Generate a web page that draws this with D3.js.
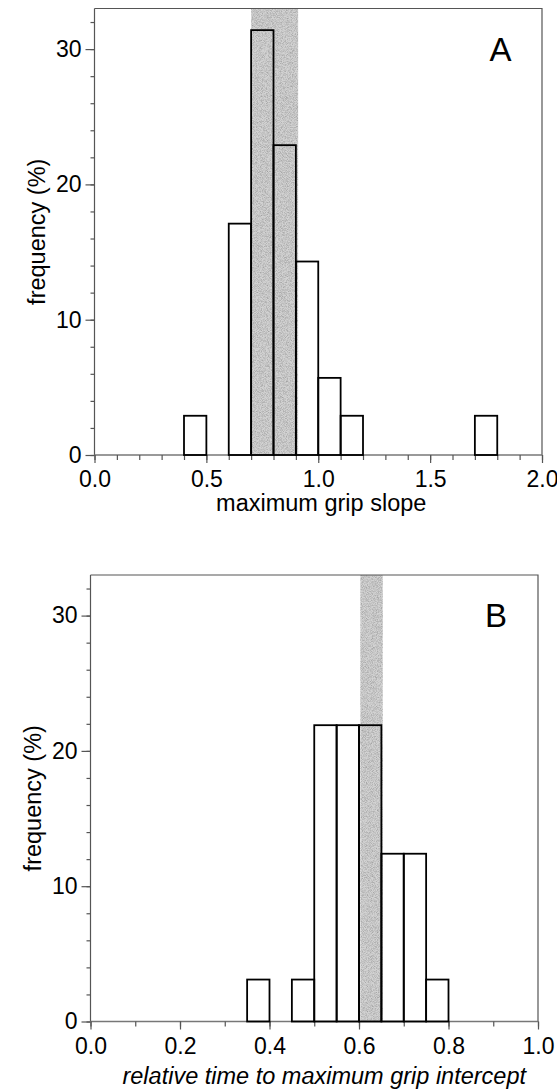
<!DOCTYPE html>
<html>
<head>
<meta charset="utf-8">
<script src="https://cdn.jsdelivr.net/npm/d3@7"></script>
<style>
  html, body { margin: 0; padding: 0; background: #fff; }
  svg { display: block; }
  text { font-family: "Liberation Sans", Arial, sans-serif; fill: #000; }
</style>
</head>
<body>
<svg id="chart" width="557" height="1091"></svg>
<script>
// Panel A: maximum grip slope, bins of 0.1
const slopeBinStart = [0.4, 0.6, 0.7, 0.8, 0.9, 1.0, 1.1, 1.7];
const slopeBinWidth = 0.1;
const slopeFreq     = [2.9, 17.1, 31.4, 22.9, 14.3, 5.7, 2.9, 2.9];
const slopeBand     = [0.70, 0.91];
const slopeTicks    = [0.0, 0.5, 1.0, 1.5, 2.0];

// Panel B: relative time to maximum grip intercept, bins of 0.05
const interceptBinStart = [0.35, 0.45, 0.50, 0.55, 0.60, 0.65, 0.70, 0.75];
const interceptBinWidth = 0.05;
const interceptFreq     = [3.1, 3.1, 21.9, 21.9, 21.9, 12.4, 12.4, 3.1];
const interceptBand     = [0.603, 0.653];
const interceptTicks    = [0.0, 0.2, 0.4, 0.6, 0.8, 1.0];

const freqTicks = [0, 10, 20, 30];
const freqMax = 33;

const svg = d3.select("#chart");

// grainy grey texture for the shaded reference band
const defs = svg.append("defs");
const grain = defs.append("filter").attr("id", "grain")
  .attr("x", 0).attr("y", 0).attr("width", "100%").attr("height", "100%");
grain.append("feTurbulence").attr("type", "fractalNoise")
  .attr("baseFrequency", 1.2).attr("numOctaves", 2).attr("seed", 7).attr("result", "noise");
grain.append("feColorMatrix").attr("in", "noise").attr("type", "matrix")
  .attr("values", "0 0 0 0 0.35  0 0 0 0 0.35  0 0 0 0 0.35  2.0 0 0 0 -0.75")
  .attr("result", "dots");
grain.append("feComposite").attr("in", "dots").attr("in2", "SourceGraphic").attr("operator", "in");

function drawPanel(p) {
  const x = d3.scaleLinear().domain(p.xDomain).range([p.left, p.right]);
  const y = d3.scaleLinear().domain([0, freqMax]).range([p.bottom, p.top]);
  const g = svg.append("g");

  // shaded band spanning the full plot height
  const bx0 = x(p.band[0]), bx1 = x(p.band[1]);
  g.append("rect").attr("x", bx0).attr("y", y(freqMax))
    .attr("width", bx1 - bx0).attr("height", y(0) - y(freqMax))
    .attr("fill", "#d2d2d2");
  g.append("rect").attr("x", bx0).attr("y", y(freqMax))
    .attr("width", bx1 - bx0).attr("height", y(0) - y(freqMax))
    .attr("fill", "#000").attr("filter", "url(#grain)");

  // frame (top and right edges)
  g.append("path")
    .attr("d", `M${x(p.xDomain[0])},${y(freqMax)}H${x(p.xDomain[1])}V${y(0)}`)
    .attr("fill", "none").attr("stroke", "#555").attr("stroke-width", 1.2);

  // y axis: minor ticks every 2, labelled every 10
  const yMinor = d3.axisLeft(y).tickValues(d3.range(0, freqMax, 2)).tickSize(4).tickFormat("");
  const yMajor = d3.axisLeft(y).tickValues(freqTicks).tickSize(9).tickPadding(4).tickFormat(d3.format("d"));
  const yg1 = g.append("g").attr("transform", `translate(${p.left},0)`).call(yMinor);
  const yg2 = g.append("g").attr("transform", `translate(${p.left},0)`).call(yMajor);
  [yg1, yg2].forEach(a => {
    a.select(".domain").attr("stroke", "#555").attr("stroke-width", 1.2);
    a.selectAll(".tick line").attr("stroke", "#555").attr("stroke-width", 1.2);
  });
  yg2.selectAll(".tick text").attr("font-size", 23).attr("font-family", "Liberation Sans, Arial, sans-serif").attr("fill", "#000");
  yg1.select(".domain").attr("d", `M0,${y(0)}V${y(freqMax)}`);
  yg2.select(".domain").remove();

  // x axis: minor ticks every 0.1, labelled at the major ticks
  const xMinor = d3.axisBottom(x).tickValues(d3.range(0, p.xDomain[1] + 1e-9, 0.1)).tickSize(5).tickFormat("");
  const xMajor = d3.axisBottom(x).tickValues(p.xTicks).tickSize(8).tickPadding(8).tickFormat(d3.format(".1f"));
  const xg1 = g.append("g").attr("transform", `translate(0,${p.bottom})`).call(xMinor);
  const xg2 = g.append("g").attr("transform", `translate(0,${p.bottom})`).call(xMajor);
  [xg1, xg2].forEach(a => {
    a.select(".domain").attr("stroke", "#777").attr("stroke-width", 1.4);
    a.selectAll(".tick line").attr("stroke", "#555").attr("stroke-width", 1.2);
  });
  xg1.select(".domain").attr("d", `M${x(p.xDomain[0])},0H${x(p.xDomain[1])}`);
  xg2.select(".domain").remove();
  xg2.selectAll(".tick text").attr("font-size", 23).attr("font-family", "Liberation Sans, Arial, sans-serif").attr("fill", "#000");

  // histogram bars, outlined only
  g.selectAll("rect.bar").data(p.starts.map((s, i) => ({ s, v: p.freq[i] })))
    .join("rect").attr("class", "bar")
    .attr("x", d => x(d.s)).attr("y", d => y(d.v))
    .attr("width", d => x(d.s + p.binWidth) - x(d.s))
    .attr("height", d => y(0) - y(d.v))
    .attr("fill", "none").attr("stroke", "#000").attr("stroke-width", 1.8);

  // axis titles and panel letter
  g.append("text").attr("x", (p.left + p.right) / 2 + p.titleShift).attr("y", p.bottom + p.titleGap)
    .attr("text-anchor", "middle").attr("font-size", 23.5)
    .attr("font-style", p.italic ? "italic" : "normal")
    .text(p.xTitle);
  g.append("text")
    .attr("transform", `translate(${p.left - 50},${(p.top + p.bottom) / 2}) rotate(-90)`)
    .attr("text-anchor", "middle").attr("font-size", 23.5)
    .text("frequency (%)");
  g.append("text").attr("x", p.letterX).attr("y", p.letterY)
    .attr("text-anchor", "middle").attr("font-size", 33)
    .text(p.letter);
}

drawPanel({
  xDomain: [0, 2], left: 94.5, right: 542, top: 8.5, bottom: 455,
  starts: slopeBinStart, freq: slopeFreq, binWidth: slopeBinWidth,
  band: slopeBand, xTicks: slopeTicks,
  xTitle: "maximum grip slope", italic: false, titleGap: 56, titleShift: 3,
  letter: "A", letterX: 500.5, letterY: 61
});

drawPanel({
  xDomain: [0, 1], left: 90.5, right: 538, top: 575, bottom: 1021.5,
  starts: interceptBinStart, freq: interceptFreq, binWidth: interceptBinWidth,
  band: interceptBand, xTicks: interceptTicks,
  xTitle: "relative time to maximum grip intercept", italic: true, titleGap: 62, titleShift: 10,
  letter: "B", letterX: 496, letterY: 627
});
</script>
</body>
</html>
